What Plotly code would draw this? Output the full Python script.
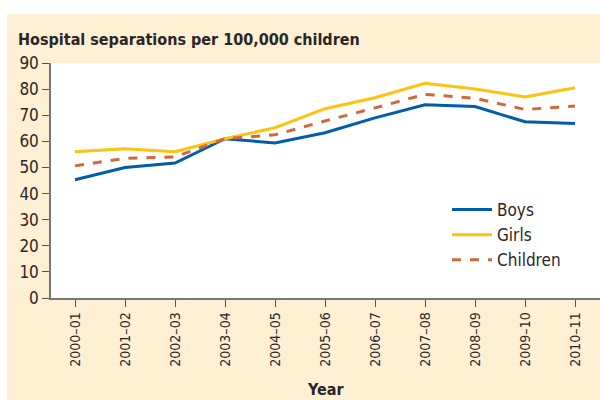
import plotly.graph_objects as go

years = ["2000–01", "2001–02", "2002–03", "2003–04", "2004–05", "2005–06",
         "2006–07", "2007–08", "2008–09", "2009–10", "2010–11"]
boys = [45.3, 50.0, 51.7, 61.0, 59.4, 63.3, 69.0, 74.0, 73.3, 67.5, 66.8]
girls = [56.0, 57.2, 56.0, 61.0, 65.2, 72.5, 76.7, 82.2, 80.0, 77.0, 80.5]
children = [50.6, 53.5, 54.0, 61.0, 62.5, 67.8, 72.8, 78.0, 76.5, 72.2, 73.5]

FONT = "DejaVu Sans Condensed, Liberation Sans Narrow, sans-serif"
BEIGE = "#FFEFD3"
TXT = "#2A2627"

fig = go.Figure()
fig.add_trace(go.Scatter(x=list(range(len(years))), y=boys, name="Boys", mode="lines",
                         line=dict(color="#005DAA", width=3)))
fig.add_trace(go.Scatter(x=list(range(len(years))), y=girls, name="Girls", mode="lines",
                         line=dict(color="#FFC20E", width=3)))
fig.add_trace(go.Scatter(x=list(range(len(years))), y=children, name="Children", mode="lines",
                         line=dict(color="#D0683A", width=3, dash="dash")))

fig.update_layout(
    width=600, height=400,
    margin=dict(l=51, r=0, t=63, b=102),
    paper_bgcolor=BEIGE, plot_bgcolor="white",
    font=dict(family=FONT, color=TXT, size=16),
    showlegend=True,
    legend=dict(x=(447 - 51) / 549, y=(298 - 192) / 235, xanchor="left", yanchor="top",
                bgcolor="rgba(0,0,0,0)", font=dict(size=17), itemwidth=40, tracegroupgap=0),
    xaxis=dict(range=[-0.48, 10.5], tickmode="array", tickvals=list(range(len(years))),
               ticktext=years, tickangle=-90, ticks="outside", ticklen=7, tickcolor="#555",
               showgrid=False, zeroline=False, showline=True, linecolor="#777", linewidth=1.5,
               tickfont=dict(size=14), automargin=False),
    yaxis=dict(range=[0, 90], dtick=10, ticks="outside", ticklen=7, tickcolor="#555",
               showgrid=False, zeroline=False, showline=True, linecolor="#777", linewidth=1.5,
               tickfont=dict(size=17), automargin=False),
    shapes=[
        # white strip above the beige panel
        dict(type="rect", xref="paper", yref="paper", x0=-0.2, x1=1.1,
             y0=(298 - 14) / 235, y1=1.4, fillcolor="white", line_width=0, layer="below"),
        # white strip left of the beige panel
        dict(type="rect", xref="paper", yref="paper", x0=-0.2, x1=(7 - 51) / 549,
             y0=-0.6, y1=1.4, fillcolor="white", line_width=0, layer="below"),
    ],
    annotations=[
        dict(text="<b>Hospital separations per 100,000 children</b>", xref="paper", yref="paper",
             x=(16 - 51) / 549, y=(298 - 40) / 235, xanchor="left", yanchor="middle",
             showarrow=False, font=dict(size=16, color=TXT)),
        dict(text="<b>Year</b>", xref="paper", yref="paper",
             x=(325 - 51) / 549, y=(298 - 389) / 235, xanchor="center", yanchor="middle",
             showarrow=False, font=dict(size=16, color=TXT)),
    ],
)

# drop the default page margin so the figure sits at the window's top-left corner
fig.write_html("out.html", config={"displayModeBar": False},
               post_script="document.body.style.margin='0';")
